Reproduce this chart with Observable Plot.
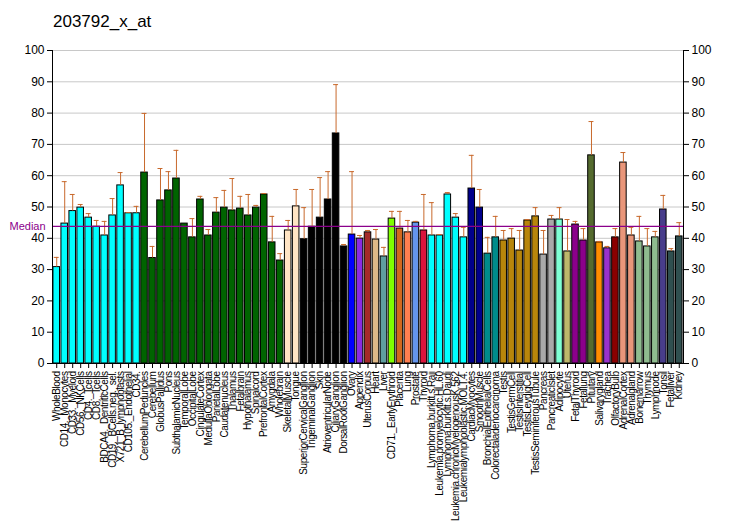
<!DOCTYPE html>
<html>
<head>
<meta charset="utf-8">
<script src="https://cdn.jsdelivr.net/npm/d3@7"></script>
<script src="https://cdn.jsdelivr.net/npm/@observablehq/plot@0.6"></script>
<style>
  html, body { margin: 0; padding: 0; background: #fff; }
  #wrap { position: relative; width: 732px; height: 530px; font-family: "Liberation Sans", Arial, sans-serif; }
  #title { position: absolute; left: 53px; top: 12px; font-size: 17px; color: #000; }
  #chart svg { display: block; }
  #chart g[aria-label="x-axis tick label"] text { letter-spacing: -0.45px; }
</style>
</head>
<body>
<div id="wrap">
  <div id="chart"></div>
  <div id="title">203792_x_at</div>
</div>
<script>
const labels = [
  "WholeBlood","CD14._Monocytes","CD33._Myeloid","CD56._NKCells","CD4._Tcells","CD8._Tcells",
  "BDCA4._DentriticCells","CD19._BCells.neg._sel.","X721_B_lymphoblasts","CD105._Endothelial","CD34.",
  "CerebellumPeduncles","Cerebellum","GlobusPallidus","Pons","SubthalamicNucleus","TemporalLobe",
  "OccipitalLobe","CingulateCortex","MedullaOblongata","ParietalLobe","Caudatenucleus","Thalamus",
  "Fetalbrain","Hypothalamus","Spinalcord","PrefrontalCortex","Amygdala","Wholebrain",
  "SkeletalMuscle","Tongue","SuperiorCervicalGanglion","TrigeminalGanglion","Skin",
  "AtrioventricularNode","CiliaryGanglion","DorsalRootGanglion","Ovary","Appendix","UterusCorpus",
  "Heart","Liver","CD71._EarlyErythroid","Placenta","Lung","Prostate","Thyroid",
  "Lymphoma.burkitt.s.Raji","Leukemia.promyelocytic.HL.60","Lymphoma.burkitt.s.Daudi",
  "Leukemia.chronicMyelogenousK.562","Leukemialymphoblastic.MOLT.4.","CardiacMyocytes","SmoothMuscle",
  "BronchialEpithelialCells","Colorectaladenocarcinoma","Testis","TestisGermCell","TestisInterstitial",
  "TestisLeydigCell","TestisSeminiferousTubule","Pancreas","PancreaticIslet","Adipocyte","Uterus",
  "FetalThyroid","Fetallung","Pituitary","Salivarygland","Trachea","OlfactoryBulb","AdrenalCortex",
  "Adrenalgland","Bonemarrow","Thymus","Lymphnode","Tonsil","Fetalliver","Kidney"
];

const values = [
  30.8,44.7,48.7,49.8,46.6,43.7,40.9,47.3,56.9,48.0,48.0,
  61.0,33.7,52.1,55.3,59.1,44.7,40.3,52.4,40.9,48.2,49.8,48.9,49.5,47.3,49.8,54.0,38.7,32.9,
  42.5,50.2,39.7,43.7,46.6,52.4,73.5,37.4,41.2,39.9,41.9,39.6,34.2,46.3,43.1,41.9,45.0,42.5,
  40.9,40.9,54.0,46.6,40.3,55.9,49.8,35.1,40.3,39.3,39.9,36.1,45.7,47.0,34.8,46.0,46.0,35.8,
  44.4,39.3,66.5,38.7,36.8,40.3,64.2,40.9,39.0,37.4,40.3,49.2,35.8,40.6
];

const errorTops = [
  33.9,58.1,54.0,50.8,47.9,45.7,45.4,52.7,61.0,48.2,50.2,
  79.9,37.4,62.3,61.3,68.1,44.7,46.3,53.4,42.8,53.0,55.3,59.1,53.4,54.0,50.5,54.3,47.0,35.1,
  45.7,55.6,49.8,55.6,59.4,61.3,89.1,38.0,61.3,40.9,42.5,42.8,37.1,48.6,48.6,45.7,45.4,54.0,
  51.4,41.2,54.6,47.9,43.5,66.5,55.6,40.3,47.0,42.5,43.1,42.5,46.0,49.8,42.5,47.3,49.8,46.0,
  45.4,43.1,77.3,39.0,37.4,43.1,67.4,43.5,47.0,43.1,42.2,53.7,36.7,45.0
];

const barColors = [
  "cyan","cyan","cyan","cyan","cyan","cyan","cyan","cyan","cyan","cyan","cyan",
  "darkgreen","darkgreen","darkgreen","darkgreen","darkgreen","darkgreen","darkgreen","darkgreen","darkgreen",
  "darkgreen","darkgreen","darkgreen","darkgreen","darkgreen","darkgreen","darkgreen","darkgreen","darkgreen",
  "bisque","bisque","black","black","black","black","black","black",
  "blue","blueviolet","brown","burlywood","cadetblue","chartreuse","chocolate","coral","cornflowerblue","crimson",
  "cyan","cyan","cyan","cyan","cyan","darkblue","darkblue","darkcyan","darkcyan",
  "darkgoldenrod","darkgoldenrod","darkgoldenrod","darkgoldenrod","darkgoldenrod","darkgray","darkgray",
  "aquamarine","darkkhaki","darkmagenta","darkmagenta","darkolivegreen","darkorange","darkorchid","darkred",
  "darksalmon","darksalmon","darkseagreen","darkseagreen","darkseagreen","darkslateblue","darkslategray","darkslategray"
];

const median = 43.8;
const yTicks = [0,10,20,30,40,50,60,70,80,90,100];

const data = labels.map((label, i) => ({label, value: values[i], err: errorTops[i], color: barColors[i]}));
const errData = data.filter(d => d.err > d.value + 0.05);

const errColor = "#c8692c";
const medColor = "#8b008b";

// axis lines drawn from the scales
function axisLines(index, scales, values, dims) {
  const g = d3.create("svg:g").attr("stroke", "#000").attr("stroke-width", 1);
  const x0 = dims.marginLeft, x1 = dims.width - dims.marginRight;
  const yTop = scales.y(100), yBot = scales.y(0);
  g.append("line").attr("x1", x0 + 0.5).attr("x2", x0 + 0.5).attr("y1", yTop).attr("y2", yBot);
  g.append("line").attr("x1", x1 + 0.5).attr("x2", x1 + 0.5).attr("y1", yTop).attr("y2", yBot);
  g.append("line").attr("x1", x0).attr("x2", x1 + 1).attr("y1", yBot + 0.5).attr("y2", yBot + 0.5);
  return g.node();
}

const plot = Plot.plot({
  width: 732,
  height: 530,
  marginLeft: 52,
  marginRight: 49,
  marginTop: 50,
  marginBottom: 167,
  style: {fontFamily: "'Liberation Sans', Arial, sans-serif", background: "#fff", color: "#000"},
  x: {type: "band", domain: labels, padding: 0.18, paddingOuter: 0.12, label: null},
  y: {domain: [0, 100], label: null},
  color: {type: "identity"},
  marks: [
    Plot.ruleY(yTicks.filter(t => t > 0), {stroke: "#c8c8c8", strokeWidth: 1}),
    Plot.barY(data, {x: "label", y: "value", fill: "color", stroke: "#000", strokeWidth: 1}),
    Plot.ruleX(errData, {x: "label", y1: "value", y2: "err", stroke: errColor, strokeWidth: 1}),
    Plot.tickY(errData, {x: "label", y: "err", stroke: errColor, strokeWidth: 1, insetLeft: 0.8, insetRight: 0.8}),
    Plot.ruleY([median], {stroke: medColor, strokeWidth: 1.2}),
    Plot.text(["Median"], {frameAnchor: "left", y: () => median, dx: -43, textAnchor: "start", fill: medColor, fontSize: 11}),
    axisLines,
    Plot.axisY({anchor: "left", ticks: yTicks, tickSize: 5, tickPadding: 3, fontSize: 12, label: null}),
    Plot.axisY({anchor: "right", ticks: yTicks, tickSize: 5, tickPadding: 3, fontSize: 12, label: null}),
    Plot.axisX({anchor: "bottom", tickSize: 5, tickPadding: 3, tickRotate: -90, fontSize: 10, label: null})
  ]
});
document.getElementById("chart").appendChild(plot);
</script>
</body>
</html>
